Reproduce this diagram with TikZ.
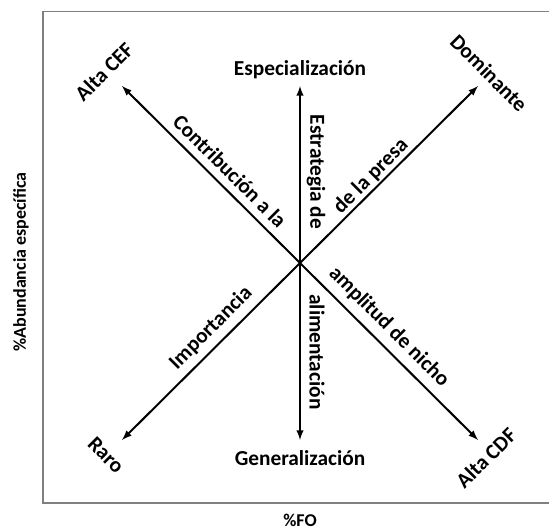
\documentclass[tikz,border=0pt]{standalone}
\usepackage{fontspec}
\setmainfont{Carlito}

\begin{document}
\begin{tikzpicture}[x=0.75pt,y=-0.75pt,
  lbl/.style={font=\bfseries\fontsize{16}{18}\selectfont, inner sep=0pt},
  axlbl/.style={font=\bfseries\fontsize{13.5}{15}\selectfont, inner sep=0pt},
  arm/.style={-latex, line width=1.5pt}]
\useasboundingbox (0,0) rectangle (549,530);
\draw [gray, line width=1.3pt] (549,11.5) -- (43,11.5) -- (43,503) -- (549,503);
\coordinate (c) at (300,263);
\coordinate (cef) at (122,86);
\coordinate (dom) at (478,86);
\coordinate (raro) at (122,440);
\coordinate (cdf) at (478,440);
\coordinate (esp) at (300,86);
\coordinate (gen) at (300,440);
\draw [arm] (c) -- (cef);
\draw [arm] (c) -- (dom);
\draw [arm] (c) -- (raro);
\draw [arm] (c) -- (cdf);
\draw [arm] (c) -- (esp);
\draw [arm] (c) -- (gen);
\node [lbl] (tesp) at (300,70) {Especialización};
\node [lbl] (tgen) at (300,458) {Generalización};
\node [lbl, rotate=45] (tcef) at (104,72) {Alta CEF};
\node [lbl, rotate=-45] (tdom) at (489,73) {Dominante};
\node [lbl, rotate=-45] (traro) at (106,455) {Raro};
\node [lbl, rotate=45] (tcdf) at (486,458) {Alta CDF};
\node [lbl, rotate=-45] (tcon) at (230,171) {Contribución a la};
\node [lbl, rotate=-90] (test) at (316,172) {Estrategia de};
\node [lbl, rotate=45] (tpre) at (371,176) {de la presa};
\node [lbl, rotate=45] (timp) at (211,328) {Importancia};
\node [lbl, rotate=-90] (tali) at (317,352) {alimentación};
\node [lbl, rotate=-45] (tamp) at (389,327) {amplitud de nicho};
\node [axlbl, rotate=90] (yax) at (21,262) {\%Abundancia específica};
\node [axlbl] (xax) at (300,520) {\%FO};
\end{tikzpicture}
\end{document}
